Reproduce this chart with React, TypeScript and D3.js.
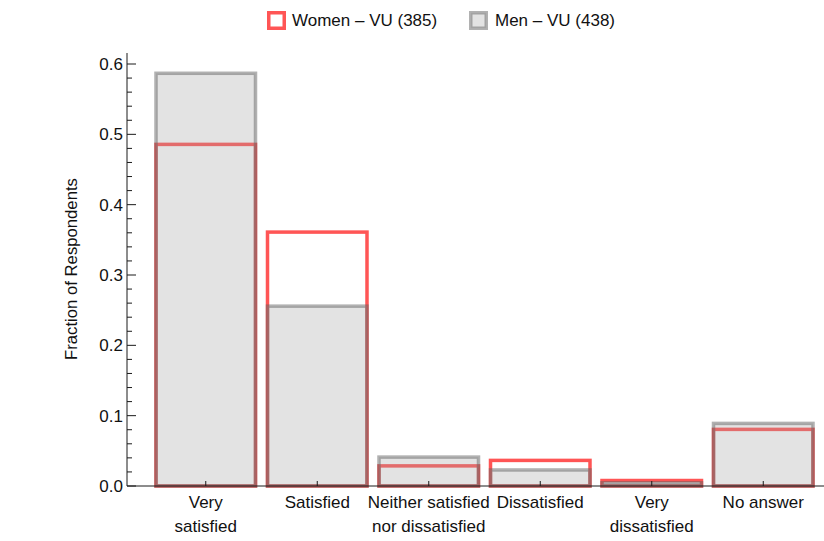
import React from "react";
import * as d3 from "d3";

const categories = ["Very satisfied", "Satisfied", "Neither satisfied nor dissatisfied", "Dissatisfied", "Very dissatisfied", "No answer"];
const categoryLines = [["Very", "satisfied"], ["Satisfied"], ["Neither satisfied", "nor dissatisfied"], ["Dissatisfied"], ["Very", "dissatisfied"], ["No answer"]];
const womenValues = [0.4857, 0.3610, 0.0286, 0.0364, 0.0078, 0.0805];
const menValues = [0.5868, 0.2557, 0.0411, 0.0228, 0.0046, 0.0890];
const yTicks = [0, 0.1, 0.2, 0.3, 0.4, 0.5, 0.6];
const seriesLabels = ["Women – VU (385)", "Men – VU (438)"];

const W = 824, H = 541;
const font = "'Liberation Sans', Arial, sans-serif";

export default function App() {
  const x = d3.scaleBand<string>().domain(categories).range([150, 819]).padding(0);
  const y = d3.scaleLinear().domain([0, 0.6]).range([486, 64]);
  const axisX = 127;
  const y0 = y(0);
  const barInset = 6;
  const bw = x.bandwidth() - barInset * 2;
  const minor = d3.range(0, 0.62, 0.02).filter((v) => Math.abs(Math.round(v * 10) - v * 10) > 1e-6);

  return (
    <svg width={W} height={H} style={{ position: "absolute", left: 0, top: 0 }} fontFamily={font}>
      {categories.map((c, i) => (
        <rect key={"w" + c} x={(x(c) as number) + barInset} y={y(womenValues[i])} width={bw} height={y0 - y(womenValues[i])}
          fill="none" stroke="rgb(255,85,85)" strokeWidth={3.5} />
      ))}
      {categories.map((c, i) => (
        <rect key={"m" + c} x={(x(c) as number) + barInset} y={y(menValues[i])} width={bw} height={y0 - y(menValues[i])}
          fill="rgba(162,162,162,0.3)" stroke="rgba(100,100,100,0.5)" strokeWidth={3.5} />
      ))}
      <line x1={axisX} x2={824} y1={y0} y2={y0} stroke="#1a1a1a" strokeWidth={1} />
      <line x1={axisX} x2={axisX} y1={y0} y2={53} stroke="#1a1a1a" strokeWidth={1} />
      {yTicks.map((t) => (
        <g key={"yt" + t}>
          <line x1={axisX} x2={axisX + 9} y1={y(t)} y2={y(t)} stroke="#1a1a1a" />
          <text x={123} y={y(t)} dy="0.35em" textAnchor="end" fontSize={17} fill="#111">{t.toFixed(1)}</text>
        </g>
      ))}
      {minor.map((t) => (
        <line key={"mt" + t} x1={axisX} x2={axisX + 5} y1={y(t)} y2={y(t)} stroke="#1a1a1a" />
      ))}
      {categories.map((c, i) => {
        const cx = (x(c) as number) + x.bandwidth() / 2;
        return (
          <g key={"xl" + c}>
            <line x1={cx} x2={cx} y1={y0} y2={y0 - 5} stroke="#1a1a1a" />
            {categoryLines[i].map((l, j) => (
              <text key={j} x={cx} y={502 + j * 24} dy="0.35em" textAnchor="middle" fontSize={17} fill="#111">{l}</text>
            ))}
          </g>
        );
      })}
      <text transform={`translate(71,269) rotate(-90)`} textAnchor="middle" dy="0.35em" fontSize={16.7} fill="#111">Fraction of Respondents</text>
      <rect x={268.75} y={12.75} width={15.5} height={15.5} fill="none" stroke="rgb(255,85,85)" strokeWidth={3.5} />
      <text x={292} y={20.5} dy="0.35em" fontSize={17} fill="#111">{seriesLabels[0]}</text>
      <rect x={470.75} y={12.75} width={15.5} height={15.5} fill="rgba(162,162,162,0.3)" stroke="rgba(100,100,100,0.5)" strokeWidth={3.5} />
      <text x={495} y={20.5} dy="0.35em" fontSize={17} fill="#111">{seriesLabels[1]}</text>
    </svg>
  );
}
